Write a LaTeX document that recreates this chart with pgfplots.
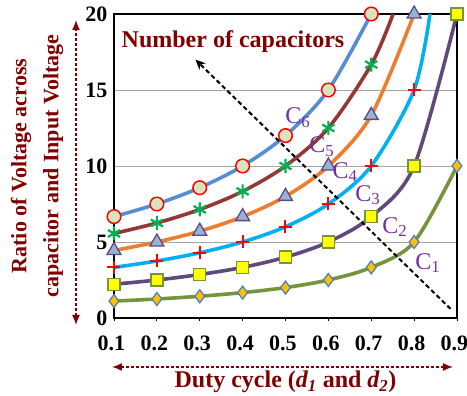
\documentclass[border=0pt]{standalone}
\usepackage{fontspec}
\setmainfont{Liberation Serif}
\usepackage{pgfplots}
\usepackage{pgfplotstable}
\pgfplotsset{compat=1.18}
\usetikzlibrary{arrows.meta}

\definecolor{labred}{RGB}{128,0,0}
\definecolor{cpurple}{RGB}{112,48,160}
\definecolor{lineCa}{RGB}{119,147,60}
\definecolor{lineCb}{RGB}{96,74,123}
\definecolor{lineCc}{RGB}{0,176,240}
\definecolor{lineCd}{RGB}{237,125,49}
\definecolor{lineCe}{RGB}{149,55,53}
\definecolor{lineCf}{RGB}{85,142,213}
\definecolor{mkCafill}{RGB}{255,192,0}
\definecolor{mkCaedge}{RGB}{79,129,189}
\definecolor{mkCbfill}{RGB}{255,255,0}
\definecolor{mkCdfill}{RGB}{149,179,215}
\definecolor{mkCe}{RGB}{0,176,80}
\definecolor{mkCffill}{RGB}{215,228,189}
\definecolor{gridgray}{RGB}{166,166,166}

% Voltage ratio versus duty cycle, one table per number of capacitors
\pgfplotstableread{
d     r
0.1   1.11
0.2   1.25
0.3   1.43
0.4   1.67
0.5   2.00
0.6   2.50
0.7   3.33
0.8   5.00
0.9   10.00
}\dataCa
\pgfplotstableread{
d     r
0.1   2.22
0.2   2.50
0.3   2.86
0.4   3.33
0.5   4.00
0.6   5.00
0.7   6.67
0.8   10.00
0.9   20.00
}\dataCb
\pgfplotstableread{
d     r
0.1   3.33
0.2   3.75
0.3   4.29
0.4   5.00
0.5   6.00
0.6   7.50
0.7   10.00
0.8   15.00
0.837 20.00
}\dataCc
\pgfplotstableread{
d     r
0.1   4.44
0.2   5.00
0.3   5.71
0.4   6.67
0.5   8.00
0.6   10.00
0.7   13.33
0.8   20.00
}\dataCd
\pgfplotstableread{
d     r
0.1   5.56
0.2   6.25
0.3   7.14
0.4   8.33
0.5   10.00
0.6   12.50
0.7   16.67
0.751 20.00
}\dataCe
\pgfplotstableread{
d     r
0.1   6.67
0.2   7.50
0.3   8.57
0.4   10.00
0.5   12.00
0.6   15.00
0.7   20.00
}\dataCf

\begin{document}
\begin{tikzpicture}
\path[use as bounding box] (-114pt,-78pt) rectangle (353pt,318pt);
\begin{axis}[
  name=ax, at={(0,0)}, anchor=south west,
  scale only axis, width=343pt, height=304pt,
  xmin=0.1, xmax=0.9, ymin=0, ymax=20,
  xtick={0.1,0.2,0.3,0.4,0.5,0.6,0.7,0.8,0.9},
  xticklabels={0.1,0.2,0.3,0.4,0.5,0.6,0.7,0.8,0.9},
  ytick={0,5,10,15,20},
  xtick pos=lower, ytick pos=left,
  ymajorgrids, grid style={gridgray, line width=0.8pt},
  axis line style={line width=1.6pt, black},
  tick align=outside, major tick length=3pt,
  xtick style={black, line width=0.8pt},
  ytick style={draw=none},
  /pgf/number format/assume math mode=true,
  tick label style={font=\bfseries\fontsize{22}{22}\selectfont},
  xticklabel style={yshift=-11pt, xshift=-2.5pt},
  clip mode=individual,
  every axis plot/.append style={smooth, line width=3.6pt},
]
\addplot[lineCa, mark=diamond*, mark size=6.5pt,
  mark options={fill=mkCafill, draw=mkCaedge, line width=1.3pt}] table[x=d, y=r] {\dataCa};
\addplot[lineCb, mark=square*, mark size=6pt,
  mark options={fill=mkCbfill, draw=lineCa, line width=1.5pt}] table[x=d, y=r] {\dataCb};
\addplot[lineCc, mark=+, mark size=6.5pt, mark indices={1,...,8},
  mark options={draw=red, line width=2pt}] table[x=d, y=r] {\dataCc};
\addplot[lineCd, mark=triangle*, mark size=8pt,
  mark options={fill=mkCdfill, draw=lineCb, line width=1.3pt}] table[x=d, y=r] {\dataCd};
\addplot[lineCe, mark=asterisk, mark size=7pt, mark indices={1,...,7},
  mark options={draw=mkCe, line width=2.2pt}] table[x=d, y=r] {\dataCe};
\addplot[lineCf, mark=*, mark size=6.8pt,
  mark options={fill=mkCffill, draw=red, line width=1.5pt}] table[x=d, y=r] {\dataCf};

\draw[black, line width=2pt, dash pattern=on 4.5pt off 3pt,
  -{Stealth[length=10pt,width=9pt]}] (axis cs:0.885,0.6) -- (axis cs:0.29,17);

\node[text=labred, font=\bfseries\fontsize{24}{24}\selectfont]
  at (axis cs:0.3776,18.16) {Number of capacitors};

\begin{scope}[every node/.style={text=cpurple, font=\fontsize{24}{24}\selectfont}]
\node at (axis cs:0.529,13.16) {C\textsubscript{6}};
\node at (axis cs:0.585,11.25) {C\textsubscript{5}};
\node at (axis cs:0.639,9.6) {C\textsubscript{4}};
\node at (axis cs:0.692,8.09) {C\textsubscript{3}};
\node at (axis cs:0.755,5.99) {C\textsubscript{2}};
\node at (axis cs:0.832,3.62) {C\textsubscript{1}};
\end{scope}
\end{axis}

% axis captions with their dashed double arrows
\node[rotate=90, align=center, text=labred,
  font=\bfseries\fontsize{22}{32}\selectfont]
  at ([xshift=-77pt]ax.west) {Ratio of Voltage across\\capacitor and Input Voltage};
\draw[labred, line width=1.5pt, dash pattern=on 3pt off 2pt,
  {Latex[length=10pt,width=8pt]}-{Latex[length=10pt,width=8pt]}]
  ([xshift=-38pt, yshift=-7pt]ax.south west) -- ([xshift=-38pt, yshift=-6pt]ax.north west);
\draw[labred, line width=1.5pt, dash pattern=on 3pt off 2pt,
  {Latex[length=10pt,width=8pt]}-{Latex[length=10pt,width=8pt]}]
  ([xshift=-2pt, yshift=-49pt]ax.south west) -- ([xshift=-4pt, yshift=-49pt]ax.south east);
\node[text=labred, font=\bfseries\fontsize{24}{24}\selectfont]
  at ([yshift=-64pt]ax.south) {Duty cycle (\textit{d\textsubscript{1}} and \textit{d\textsubscript{2}})};
\end{tikzpicture}
\end{document}
